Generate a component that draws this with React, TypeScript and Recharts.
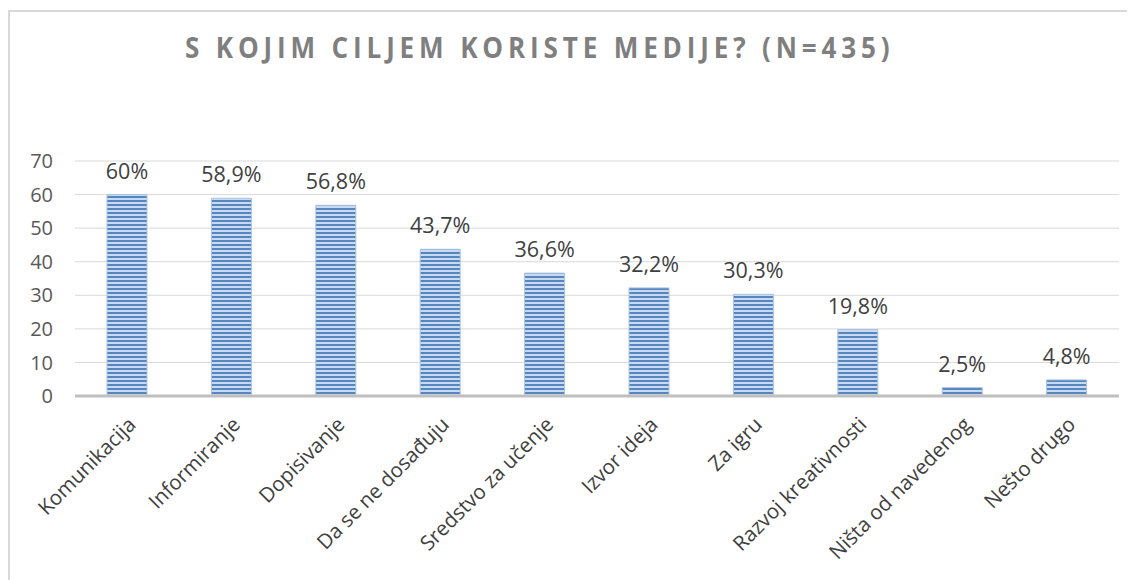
import React from 'react';
import { BarChart, Bar, XAxis, YAxis, CartesianGrid, LabelList } from 'recharts';

const categories = ['Komunikacija', 'Informiranje', 'Dopisivanje', 'Da se ne dosađuju', 'Sredstvo za učenje', 'Izvor ideja', 'Za igru', 'Razvoj kreativnosti', 'Ništa od navedenog', 'Nešto drugo'];
const values = [60, 58.9, 56.8, 43.7, 36.6, 32.2, 30.3, 19.8, 2.5, 4.8];
const yTicks = [0, 10, 20, 30, 40, 50, 60, 70];
const title = 'S KOJIM CILJEM KORISTE MEDIJE? (N=435)';

const data = categories.map((c, i) => ({ name: c, value: values[i] }));

const FONT = '"Open Sans", sans-serif';

const XTick = (props: any) => {
  const { x, y, payload } = props;
  return (
    <text
      transform={`translate(${x + 6},${y + 18}) rotate(-45)`}
      textAnchor="end"
      dominantBaseline="middle"
      fontFamily={FONT}
      fontSize={20.5}
      fill="#404040"
    >
      {payload.value}
    </text>
  );
};

export default function App() {
  return (
    <div style={{ position: 'relative', width: 1127, height: 572 }}>
      <div
        style={{
          position: 'absolute',
          left: 0,
          top: 2,
          width: 1127,
          height: 570,
          borderTop: '2px solid #d9d9d9',
          borderLeft: '2px solid #d9d9d9',
          boxSizing: 'border-box',
        }}
      />
      <svg style={{ position: 'absolute', left: 0, top: 0 }} width={1127} height={80}>
        <g transform="translate(177,50) scale(0.9,1)">
          <text
            x={0}
            y={0}
            textAnchor="start"
            fontFamily={FONT}
            fontWeight={700}
            fontSize={29}
            fill="#7f7f7f"
            textLength={783}
            lengthAdjust="spacing"
          >
            {title}
          </text>
        </g>
      </svg>
      <div style={{ position: 'absolute', left: 0, top: 0 }}>
        <BarChart width={1127} height={572} data={data} margin={{ top: 153, right: 16, bottom: 0, left: 7 }}>
          <defs>
            <pattern id="stripes" patternUnits="userSpaceOnUse" width={4} height={4}>
              <rect x={0} y={0} width={4} height={4} fill="#c9daf0" />
              <rect x={0} y={0} width={4} height={2} fill="#5586c0" />
            </pattern>
          </defs>
          <CartesianGrid vertical={false} stroke="#d9d9d9" strokeWidth={1} />
          <XAxis
            dataKey="name"
            height={184}
            interval={0}
            tick={<XTick />}
            tickLine={false}
            axisLine={{ stroke: '#bfbfbf', strokeWidth: 3 }}
          />
          <YAxis
            width={60}
            domain={[0, 70]}
            ticks={yTicks}
            tickLine={false}
            axisLine={false}
            tickSize={0}
            tickMargin={22}
            tick={{ fontFamily: FONT, fontSize: 20, fill: '#595959' }}
          />
          <Bar dataKey="value" barSize={40} fill="url(#stripes)" stroke="#a9c3e3" strokeWidth={1} isAnimationActive={false}>
            <LabelList
              dataKey="value"
              position="top"
              offset={16}
              formatter={(v: any) => `${String(v).replace('.', ',')}%`}
              style={{ fontFamily: FONT, fontSize: 21.5, fill: '#404040' }}
            />
          </Bar>
        </BarChart>
      </div>
    </div>
  );
}
